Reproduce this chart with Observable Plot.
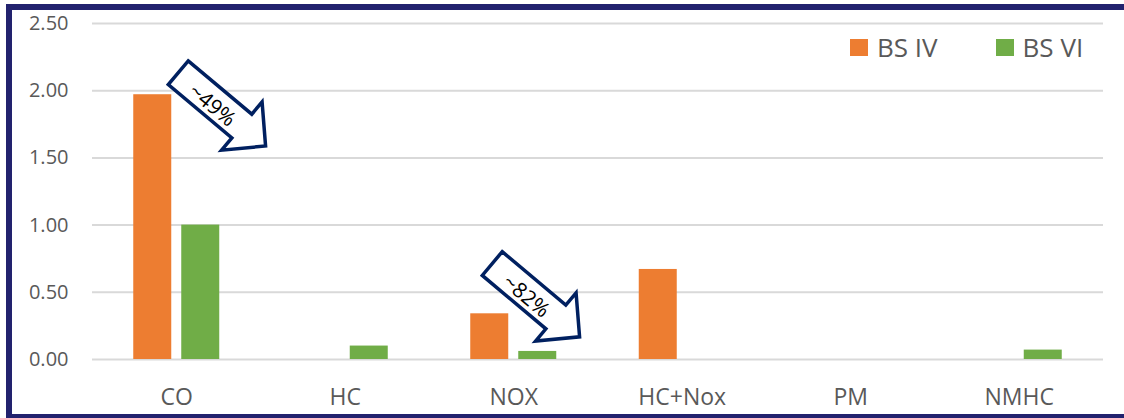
<!DOCTYPE html>
<html>
<head>
<meta charset="utf-8">
<script src="https://cdn.jsdelivr.net/npm/d3@7"></script>
<script src="https://cdn.jsdelivr.net/npm/@observablehq/plot@0.6"></script>
<style>
  html, body { margin: 0; padding: 0; background: #fff; overflow: hidden; }
  #wrap { position: relative; width: 1124px; height: 418px; overflow: hidden; background: #fff; }
  #frame { position: absolute; left: 6px; top: 4px; width: 1140px; height: 416px; box-sizing: border-box;
           border: 6px solid #22226e; pointer-events: none; }
  #legend { position: absolute; top: 29px; left: 850px; font-family: "Open Sans", sans-serif;
            font-size: 26px; color: #595959; display: flex; align-items: center; }
  #legend .item { display: flex; align-items: center; }
  #legend .sw { width: 18px; height: 17px; display: inline-block; margin-right: 9px; }
</style>
</head>
<body>
<div id="wrap">
  <div id="chart"></div>
  <div id="legend"></div>
  <div id="frame"></div>
</div>
<script>
// ---- data ----
const categories = ["CO", "HC", "NOX", "HC+Nox", "PM", "NMHC"];
const series = ["BS IV", "BS VI"];
const colors = ["#ED7D31", "#70AD47"];
const bs4Values = [1.97, null, 0.34, 0.67, null, null];
const bs6Values = [1.00, 0.10, 0.06, null, null, 0.07];
const yTicks = [0, 0.5, 1.0, 1.5, 2.0, 2.5];
const annoCategory = ["CO", "NOX"];
const annoValue = [2.13, 0.71];
const annoLabel = ["~49%", "~82%"];

// ---- table ----
const rows = [];
categories.forEach((c, i) => {
  if (bs4Values[i] != null) rows.push({category: c, series: series[0], value: bs4Values[i]});
  if (bs6Values[i] != null) rows.push({category: c, series: series[1], value: bs6Values[i]});
});

// annotation style offsets (pixels, relative to band centre)
const annoDx = [2, -21];

function arrowMark(index, scales) {
  const ns = "http://www.w3.org/2000/svg";
  const g = document.createElementNS(ns, "g");
  const x = scales.x, y = scales.y;
  const bw = typeof x.bandwidth === "function" ? x.bandwidth() : x.bandwidth;
  const h = 15.5, hs = 83, hh = 31.5, L = 114, ang = 40;
  annoCategory.forEach((c, i) => {
    const x0 = x(c) + bw / 2 + annoDx[i];
    const y0 = y(annoValue[i]);
    const gg = document.createElementNS(ns, "g");
    gg.setAttribute("transform", `translate(${x0},${y0}) rotate(${ang})`);
    const poly = document.createElementNS(ns, "polygon");
    poly.setAttribute("points", [[0,-h],[hs,-h],[hs,-hh],[L,0],[hs,hh],[hs,h],[0,h]].map(p => p.join(",")).join(" "));
    poly.setAttribute("fill", "#fff");
    poly.setAttribute("stroke", "#002060");
    poly.setAttribute("stroke-width", "3.5");
    poly.setAttribute("stroke-linejoin", "miter");
    gg.appendChild(poly);
    const t = document.createElementNS(ns, "text");
    t.setAttribute("x", 47);
    t.setAttribute("y", 2);
    t.setAttribute("text-anchor", "middle");
    t.setAttribute("dominant-baseline", "central");
    t.setAttribute("font-size", "21px");
    t.setAttribute("font-family", "Open Sans, sans-serif");
    t.setAttribute("fill", "#000");
    t.textContent = annoLabel[i];
    gg.appendChild(t);
    g.appendChild(gg);
  });
  return g;
}

const chart = Plot.plot({
  width: 1124,
  height: 418,
  marginLeft: 92,
  marginRight: 21,
  marginTop: 23,
  marginBottom: 59,
  style: {fontFamily: "Open Sans, sans-serif", fontSize: "20px", color: "#595959", background: "transparent"},
  x: {domain: categories, padding: 0, round: false, tickSize: 0, tickPadding: 29, label: null},
  y: {domain: [0, 2.5], ticks: yTicks, tickFormat: d3.format(".2f"), tickSize: 0, tickPadding: 24, label: null},
  color: {domain: series, range: colors},
  marks: [
    Plot.ruleY(yTicks, {stroke: "#d9d9d9", strokeWidth: 2}),
    Plot.barY(rows.filter(d => d.series === series[0]), {x: "category", y: "value", fill: "series", insetLeft: 41.25, insetRight: 89.25}),
    Plot.barY(rows.filter(d => d.series === series[1]), {x: "category", y: "value", fill: "series", insetLeft: 89.25, insetRight: 41.25}),
    arrowMark
  ]
});
chart.querySelectorAll('[aria-label^="x-axis"] text').forEach(t => t.setAttribute("font-size", "23px"));
chart.querySelectorAll('[aria-label^="x-axis"]').forEach(g => g.setAttribute("font-size", "23px"));
document.getElementById("chart").appendChild(chart);

// legend
const leg = document.getElementById("legend");
series.forEach((s, i) => {
  const item = document.createElement("div");
  item.className = "item";
  if (i > 0) item.style.marginLeft = "58px";
  const sw = document.createElement("span");
  sw.className = "sw";
  sw.style.background = colors[i];
  const lab = document.createElement("span");
  lab.textContent = s;
  item.appendChild(sw); item.appendChild(lab);
  leg.appendChild(item);
});
</script>
</body>
</html>
